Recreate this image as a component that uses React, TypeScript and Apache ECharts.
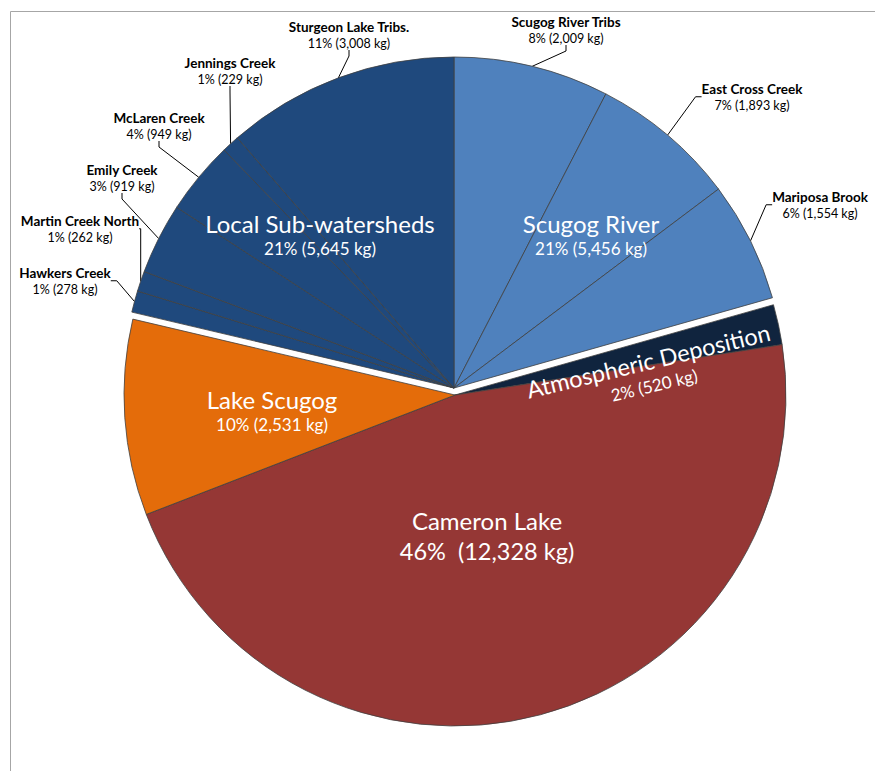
import React, { useEffect, useRef } from 'react';
import * as echarts from 'echarts';

// ---- data ----
const scugogRiverParts = ['Scugog River Tribs', 'East Cross Creek', 'Mariposa Brook'];
const scugogRiverKg = [2009, 1893, 1554];
const scugogRiverPct = [8, 7, 6];

const localParts = ['Hawkers Creek', 'Martin Creek North', 'Emily Creek', 'McLaren Creek', 'Jennings Creek', 'Sturgeon Lake Tribs.'];
const localKg = [278, 262, 919, 949, 229, 3008];
const localPct = [1, 1, 3, 4, 1, 11];

// clockwise from 12 o'clock
const groupNames = ['Scugog River', 'Atmospheric Deposition', 'Cameron Lake', 'Lake Scugog', 'Local Sub-watersheds'];
const groupKg = [5456, 520, 12328, 2531, 5645];
const groupPct = [21, 2, 46, 10, 21];

// ---- styles ----
const FONT = 'Lato, "Noto Sans", sans-serif';
const COLORS: Record<string, string> = {
  'Scugog River': '#4F81BD',
  'Atmospheric Deposition': '#10243E',
  'Cameron Lake': '#953735',
  'Lake Scugog': '#E46C0A',
  'Local Sub-watersheds': '#1F497D',
};
const UPPER_CENTER = [454, 388];
const LOWER_CENTER = [455, 395];
const RADIUS = 331;

// label block centres (layout only)
const subLabelPos: Record<string, [number, number]> = {
  'Scugog River Tribs': [566, 30],
  'East Cross Creek': [752, 97],
  'Mariposa Brook': [820, 205],
  'Hawkers Creek': [65, 281],
  'Martin Creek North': [80, 229],
  'Emily Creek': [122, 178],
  'McLaren Creek': [159, 126],
  'Jennings Creek': [230, 71],
  'Sturgeon Lake Tribs.': [349, 35],
};
const groupLabelPos: Record<string, [number, number]> = {
  'Scugog River': [591, 235],
  'Atmospheric Deposition': [651, 372],
  'Cameron Lake': [487, 537],
  'Lake Scugog': [272, 411],
  'Local Sub-watersheds': [320, 235],
};

const fmt = (v: number) => v.toLocaleString('en-US');

type Slice = { name: string; value: number; pct: number; color: string; upper: boolean; sub: boolean };

const slices: Slice[] = [
  ...scugogRiverParts.map((n, i) => ({ name: n, value: scugogRiverKg[i], pct: scugogRiverPct[i], color: COLORS['Scugog River'], upper: true, sub: true })),
  ...[1, 2, 3].map((g) => ({ name: groupNames[g], value: groupKg[g], pct: groupPct[g], color: COLORS[groupNames[g]], upper: false, sub: false })),
  ...localParts.map((n, i) => ({ name: n, value: localKg[i], pct: localPct[i], color: COLORS['Local Sub-watersheds'], upper: true, sub: true })),
];

const layerData = (upper: boolean) =>
  slices.map((s) =>
    s.upper === upper
      ? {
          name: s.name,
          value: s.value,
          itemStyle: { color: s.color, borderColor: '#404040', borderWidth: 0.8 },
          label: s.sub
            ? { show: true, formatter: `{n|${s.name}}\n{v|${s.pct}% (${fmt(s.value)} kg)}` }
            : { show: false },
          labelLine: { show: s.sub },
        }
      : {
          name: s.name,
          value: s.value,
          itemStyle: { color: 'rgba(0,0,0,0)', borderWidth: 0 },
          label: { show: false },
          labelLine: { show: false },
        }
  );

const subRich = {
  n: { fontFamily: FONT, fontWeight: 'bold', fontSize: 13.5, color: '#000', lineHeight: 17, align: 'center' },
  v: { fontFamily: FONT, fontSize: 12.5, color: '#000', lineHeight: 17, align: 'center' },
};

const layerSeries = (upper: boolean) => ({
  type: 'pie',
  center: upper ? UPPER_CENTER : LOWER_CENTER,
  radius: RADIUS,
  startAngle: 90,
  clockwise: true,
  avoidLabelOverlap: false,
  silent: true,
  z: 2,
  label: { position: 'outside', rich: subRich, fontFamily: FONT },
  labelLine: { length: 10, length2: 6, smooth: false, lineStyle: { color: '#000', width: 1 } },
  labelLayout: (p: any) => {
    const s = slices[p.dataIndex];
    const pos = s ? subLabelPos[s.name] : undefined;
    if (!pos) return {};
    return { x: pos[0], y: pos[1], align: 'center', verticalAlign: 'middle' };
  },
  emphasis: { disabled: true },
  data: layerData(upper),
});

const groupLabelData = groupNames.map((n, i) => {
  const big = n === 'Cameron Lake';
  const atm = n === 'Atmospheric Deposition';
  const valText = big ? `${groupPct[i]}%  (${fmt(groupKg[i])} kg)` : `${groupPct[i]}% (${fmt(groupKg[i])} kg)`;
  return {
    name: n,
    value: groupKg[i],
    label: {
      show: true,
      rotate: atm ? 13.5 : 0,
      formatter: `{${atm ? 'na' : 'n'}|${n}}\n{${big ? 'vb' : 'v'}|${valText}}`,
    },
  };
});

export default function App() {
  const ref = useRef<HTMLDivElement>(null);
  useEffect(() => {
    if (!ref.current) return;
    const chart = echarts.init(ref.current, undefined, { renderer: 'svg' });
    chart.setOption({
      animation: false,
      backgroundColor: '#ffffff',
      graphic: [
        {
          type: 'rect',
          shape: { x: 10.5, y: 11.5, width: 900, height: 800 },
          style: { fill: 'none', stroke: '#a6a6a6', lineWidth: 1 },
          silent: true,
          z: 0,
        },
      ],
      series: [
        layerSeries(false),
        layerSeries(true),
        {
          type: 'pie',
          center: LOWER_CENTER,
          radius: RADIUS,
          startAngle: 90,
          clockwise: true,
          avoidLabelOverlap: false,
          silent: true,
          z: 5,
          itemStyle: { color: 'rgba(0,0,0,0)', borderWidth: 0 },
          label: {
            position: 'inside',
            color: '#fff',
            rich: {
              n: { fontFamily: FONT, fontSize: 24, color: '#fff', lineHeight: 27, align: 'center' },
              na: { fontFamily: FONT, fontSize: 23.5, color: '#fff', lineHeight: 27, align: 'center' },
              v: { fontFamily: FONT, fontSize: 17, color: '#fff', lineHeight: 23, align: 'center' },
              vb: { fontFamily: FONT, fontSize: 23.5, color: '#fff', lineHeight: 34, align: 'center' },
            },
          },
          labelLine: { show: false },
          labelLayout: (p: any) => {
            const pos = groupLabelPos[groupNames[p.dataIndex]];
            if (!pos) return {};
            return { x: pos[0], y: pos[1], align: 'center', verticalAlign: 'middle' };
          },
          emphasis: { disabled: true },
          data: groupLabelData,
        },
      ],
    });
    return () => chart.dispose();
  }, []);
  return (
    <div
      ref={ref}
      style={{ position: 'absolute', left: 0, top: 0, width: 875, height: 771, background: '#fff' }}
    />
  );
}
